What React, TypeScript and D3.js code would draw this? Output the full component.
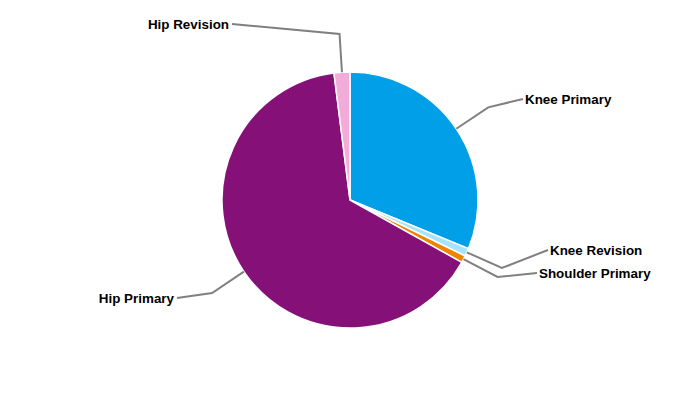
import React from "react";
import * as d3 from "d3";

const categories = ["Knee Primary", "Knee Revision", "Shoulder Primary", "Hip Primary", "Hip Revision"];
const values = [31.2, 1.0, 0.9, 64.9, 2.0];
const colors = ["#009FE8", "#A6E4FB", "#F08300", "#851078", "#F2ACDA"];
// label end points (layout)
const labelEnds: [number, number][] = [
  [523, 99],
  [548, 250],
  [537, 273],
  [177, 298],
  [232, 24],
];

const W = 700, H = 400;
const cx = 350, cy = 200, R = 128;

export default function App() {
  const pie = d3.pie<number>().sort(null).value((d) => d);
  const arcs = pie(values);
  const arc = d3.arc<d3.PieArcDatum<number>>().innerRadius(0).outerRadius(R);
  return (
    <svg width={W} height={H} style={{ position: "absolute", left: 0, top: 0 }}>
      <rect width={W} height={H} fill="#fff" />
      <g transform={`translate(${cx},${cy})`}>
        {arcs.map((a, i) => (
          <path key={i} d={arc(a) || ""} fill={colors[i]} stroke="#fff" strokeWidth={1.5} strokeLinejoin="round" />
        ))}
      </g>
      {arcs.map((a, i) => {
        const m = (a.startAngle + a.endAngle) / 2;
        const x0 = cx + R * Math.sin(m), y0 = cy - R * Math.cos(m);
        const x1 = cx + R * 1.3 * Math.sin(m), y1 = cy - R * 1.3 * Math.cos(m);
        const [x2, y2] = labelEnds[i];
        const right = x2 > cx;
        return (
          <g key={i}>
            <polyline points={`${x0},${y0} ${x1},${y1} ${x2},${y2}`} fill="none" stroke="#808080" strokeWidth={2} />
            <text
              x={right ? x2 + 2 : x2 - 3}
              y={y2}
              dy="0.35em"
              textAnchor={right ? "start" : "end"}
              fontFamily="Liberation Sans, Arial, sans-serif"
              fontWeight="bold"
              fontSize={13.4}
              fill="#000"
            >
              {categories[i]}
            </text>
          </g>
        );
      })}
    </svg>
  );
}
